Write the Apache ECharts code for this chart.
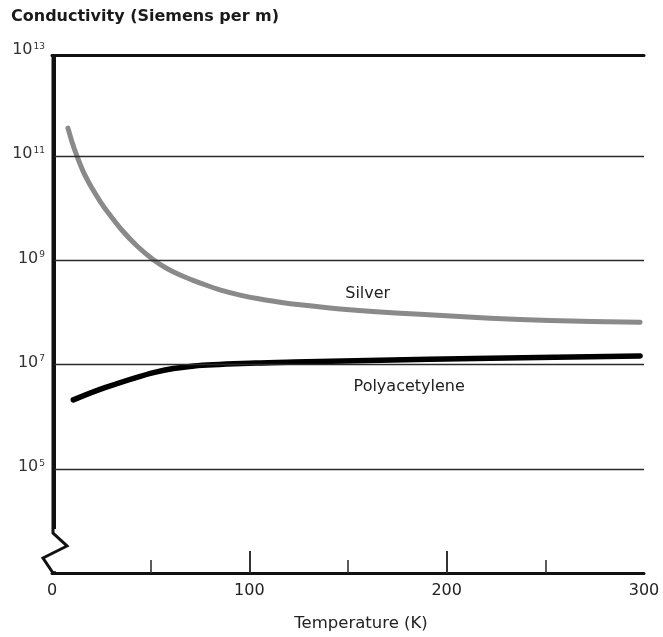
<!DOCTYPE html>
<html><head><meta charset="utf-8">
<script src="https://cdn.jsdelivr.net/npm/echarts@6/dist/echarts.min.js"></script>
<style>html,body{margin:0;padding:0;background:#fff}#c{width:663px;height:637px}</style>
</head><body><div id="c"></div>
<script>
// ---- data ----
const titleText = 'Conductivity (Siemens per m)';
const xName = 'Temperature (K)';
const xMin = 0, xMax = 300, xStep = 100;
const yMin = 1e3, yMax = 1e13;
const yLabelValues = [1e5, 1e7, 1e9, 1e11, 1e13];
const yGridValues = [1e5, 1e7, 1e9, 1e11];
const seriesNames = ['Silver', 'Polyacetylene'];
const silverT = [8.1, 10.1, 12.7, 16.2, 20.3, 24.3, 27.9, 35.5, 43.1, 51.2, 57.8, 64.9, 71.5, 78.6, 85.1, 95.3, 105.4, 115.5, 125.7, 146, 166.2, 186.5, 222, 252.4, 298];
const silverS = [3.46e11, 1.90e11, 9.91e10, 4.73e10, 2.42e10, 1.38e10, 8.81e9, 3.79e9, 1.89e9, 1.04e9, 7.16e8, 5.26e8, 4.15e8, 3.30e8, 2.73e8, 2.16e8, 1.81e8, 1.58e8, 1.41e8, 1.17e8, 1.02e8, 9.25e7, 7.78e7, 7.03e7, 6.47e7];
const polyT = [10.8, 26.8, 52, 72, 103, 123, 160, 222, 298];
const polyS = [2.1e6, 3.6e6, 7.1e6, 9.4e6, 1.07e7, 1.12e7, 1.2e7, 1.32e7, 1.47e7];
const labelPos = [[160, 2.3e8], [181, 3.8e6]];

// ---- chart ----
const font = 'DejaVu Sans';
const chart = echarts.init(document.getElementById('c'), null, {renderer: 'canvas'});
const supFmt = v => '{b|10}{s|' + Math.round(Math.log10(v)) + '}';
const labelStyle = {fontFamily: font, fontSize: 16, color: '#222'};

chart.setOption({
  animation: false,
  backgroundColor: '#fff',
  title: {text: titleText, left: 6, top: 4,
    textStyle: {fontFamily: font, fontWeight: 'bold', fontSize: 16, color: '#1a1a1a'}},
  grid: {left: 52, right: 19, top: 52, bottom: 63, show: false},
  xAxis: [{
    type: 'value', min: xMin, max: xMax, interval: xStep,
    name: xName, nameLocation: 'middle', nameGap: 42,
    nameTextStyle: {fontFamily: font, fontSize: 16.5, color: '#222', padding: [0, 0, 0, 26]},
    axisLine: {show: true, lineStyle: {color: '#111', width: 3}},
    axisTick: {show: true, inside: true, length: 22, customValues: [100, 200], lineStyle: {color: '#333', width: 2}},
    minorTick: {show: true, splitNumber: 2, length: 13, lineStyle: {color: '#333', width: 1.6}},
    axisLabel: {margin: 10, fontFamily: font, fontSize: 16, color: '#222'},
    splitLine: {show: false}
  }, {
    type: 'value', position: 'top', min: xMin, max: xMax, offset: -3,
    axisLine: {show: true, lineStyle: {color: '#111', width: 3}},
    axisTick: {show: false}, axisLabel: {show: false}, splitLine: {show: false}
  }],
  yAxis: [{
    type: 'log', logBase: 10, min: yMin, max: yMax,
    axisLine: {show: false}, axisTick: {show: false}, splitLine: {show: false},
    axisLabel: {customValues: yLabelValues, formatter: supFmt, margin: 7, padding: [0, 0, 4, 0],
      rich: {
        b: {fontFamily: font, fontSize: 16, color: '#333'},
        s: {fontFamily: font, fontSize: 9, color: '#333', verticalAlign: 'top', padding: [0, 0, 0, 1]}
      }}
  }, {
    type: 'value', position: 'right', min: 0, max: 1, offset: -2,
    axisLine: {show: true, lineStyle: {color: '#111', width: 3}},
    axisTick: {show: false}, axisLabel: {show: false}, splitLine: {show: false}
  }],
  series: [{
    type: 'line', name: 'gridlines', data: [], z: 1, silent: true,
    markLine: {silent: true, symbol: 'none', label: {show: false}, animation: false,
      lineStyle: {color: '#2a2a2a', width: 1.3, type: 'solid'},
      data: yGridValues.map(v => ({yAxis: v}))}
  }, {
    type: 'line', name: seriesNames[0], z: 3, smooth: 0.25, showSymbol: false, silent: true,
    data: silverT.map((t, i) => [t, silverS[i]]),
    lineStyle: {color: '#8a8a8a', width: 5, cap: 'round', join: 'round'},
    markPoint: {symbol: 'circle', symbolSize: 1, itemStyle: {color: 'rgba(0,0,0,0)'}, silent: true,
      label: Object.assign({show: true, position: 'inside', formatter: seriesNames[0]}, labelStyle),
      data: [{coord: labelPos[0]}]}
  }, {
    type: 'line', name: seriesNames[1], z: 3, smooth: 0.3, showSymbol: false, silent: true,
    data: polyT.map((t, i) => [t, polyS[i]]),
    lineStyle: {color: '#000', width: 5.5, cap: 'round', join: 'round'},
    markPoint: {symbol: 'circle', symbolSize: 1, itemStyle: {color: 'rgba(0,0,0,0)'}, silent: true,
      label: Object.assign({show: true, position: 'inside', formatter: seriesNames[1]}, labelStyle),
      data: [{coord: labelPos[1]}]}
  }]
});

// left border with axis-break zigzag (decoration placed from the axis scale)
const p0 = chart.convertToPixel({gridIndex: 0}, [xMin, yMin]);
const pT = chart.convertToPixel({gridIndex: 0}, [xMin, yMax]);
const bx = p0[0] + 1, yb = p0[1], yt = pT[1] + 2;
chart.setOption({graphic: [
  {type: 'rect', z: 99, silent: true,
   shape: {x: bx - 16, y: yb - 44, width: 34, height: 42.3}, style: {fill: '#fff'}},
  {type: 'rect', z: 99, silent: true,
   shape: {x: bx - 6, y: yt - 12, width: 12, height: 12}, style: {fill: '#fff'}},
  {type: 'polyline', z: 100, silent: true,
   shape: {points: [[bx, yt], [bx, yb - 40], [bx + 14, yb - 27], [bx - 10, yb - 15], [bx, yb]]},
   style: {stroke: '#111', lineWidth: 3, fill: null, lineJoin: 'miter'}}
]});
</script>
</body></html>
